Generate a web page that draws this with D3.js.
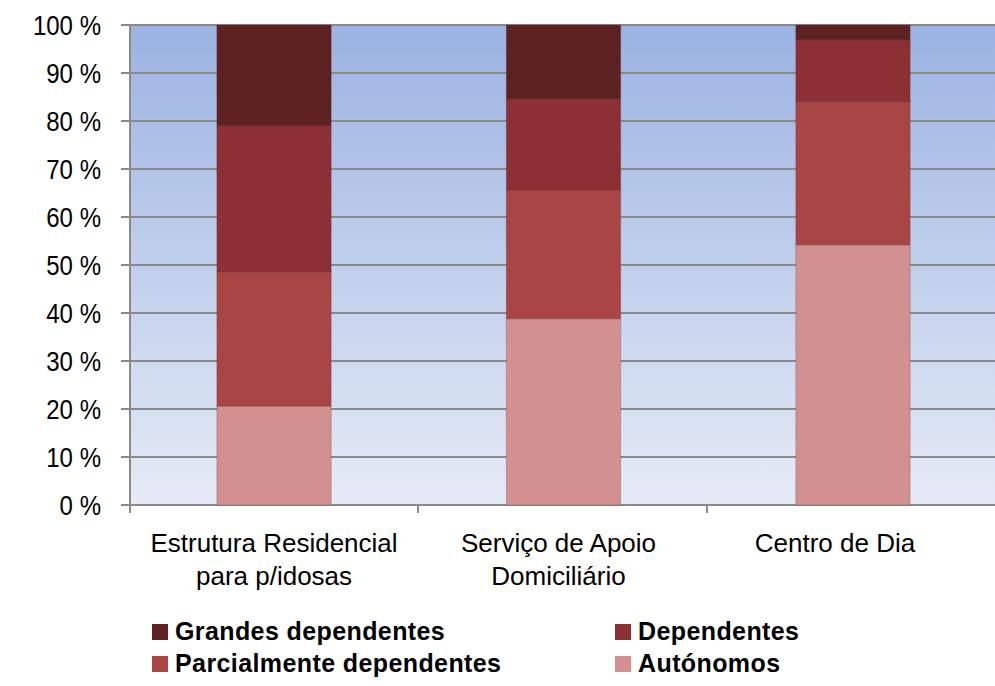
<!DOCTYPE html>
<html>
<head>
<meta charset="utf-8">
<script src="https://cdn.jsdelivr.net/npm/d3@7"></script>
<style>
  body { margin: 0; background: #fff; }
  svg text { font-family: "Liberation Sans", Arial, sans-serif; fill: #000; }
</style>
</head>
<body>
<svg id="chart" width="995" height="686"></svg>
<script>
// categorias e valores (percentagens, de baixo para cima)
var categories = [["Estrutura Residencial", "para p/idosas"], ["Serviço de Apoio", "Domiciliário"], ["Centro de Dia"]];
var series = ["Autónomos", "Parcialmente dependentes", "Dependentes", "Grandes dependentes"];
var autonomos = [20.6, 38.8, 54.2];
var parcialmente = [27.9, 26.8, 29.8];
var dependentes = [30.5, 19.0, 12.9];
var grandes = [21.0, 15.4, 3.1];
var colors = ["#d39090", "#aa4545", "#8d3036", "#5e2122"];
var yTicks = [0, 10, 20, 30, 40, 50, 60, 70, 80, 90, 100];

var svg = d3.select("#chart");
var margin = {top: 25, left: 130, bottom: 181};
var plotW = 867;
var plotH = 686 - margin.top - margin.bottom;

var x = d3.scaleBand()
    .domain(d3.range(categories.length))
    .range([margin.left, margin.left + plotW])
    .paddingInner(0.605).paddingOuter(0.3);
var y = d3.scaleLinear().domain([0, 100]).range([margin.top + plotH, margin.top]);

// fundo com gradiente
var grad = svg.append("defs").append("linearGradient")
    .attr("id", "bg").attr("x1", 0).attr("y1", 0).attr("x2", 0).attr("y2", 1);
grad.append("stop").attr("offset", "0%").attr("stop-color", "#9bb3e2");
grad.append("stop").attr("offset", "100%").attr("stop-color", "#e6ebf6");
svg.append("rect")
    .attr("x", margin.left).attr("y", margin.top)
    .attr("width", plotW).attr("height", plotH)
    .attr("fill", "url(#bg)");

// grelha
svg.append("g").selectAll("line")
    .data(yTicks)
    .enter().append("line")
    .attr("x1", margin.left - 9).attr("x2", margin.left + plotW)
    .attr("y1", function(d){ return y(d); }).attr("y2", function(d){ return y(d); })
    .attr("stroke", "#8a8a8a").attr("stroke-width", 2);

// barras empilhadas
var rows = categories.map(function(c, i){
    return {i: i, a: autonomos[i], p: parcialmente[i], d: dependentes[i], g: grandes[i]};
});
var stack = d3.stack().keys(["a", "p", "d", "g"]);
var layers = stack(rows);
svg.append("g").selectAll("g")
    .data(layers)
    .enter().append("g")
    .attr("fill", function(d, k){ return colors[k]; })
    .selectAll("rect")
    .data(function(d){ return d; })
    .enter().append("rect")
    .attr("x", function(d){ return x(d.data.i); })
    .attr("width", x.bandwidth())
    .attr("y", function(d){ return y(Math.min(100, d[1])); })
    .attr("height", function(d){ return y(d[0]) - y(Math.min(100, d[1])); })
    .attr("stroke", "rgba(90,40,40,0.25)").attr("stroke-width", 1);

// eixo y
svg.append("line")
    .attr("x1", margin.left).attr("x2", margin.left)
    .attr("y1", margin.top).attr("y2", margin.top + plotH + 8)
    .attr("stroke", "#8a8a8a").attr("stroke-width", 2);
svg.append("g").selectAll("text")
    .data(yTicks)
    .enter().append("text")
    .attr("transform", function(d){ return "translate(101," + (y(d) + 10) + ") scale(0.89,1)"; })
    .attr("text-anchor", "end")
    .style("font-size", "27px")
    .text(function(d){ return d + " %"; });

// eixo x (marcas entre categorias)
var step = plotW / categories.length;
svg.append("g").selectAll("line")
    .data(d3.range(1, categories.length + 1))
    .enter().append("line")
    .attr("x1", function(d){ return margin.left + d * step - 1; })
    .attr("x2", function(d){ return margin.left + d * step - 1; })
    .attr("y1", margin.top + plotH).attr("y2", margin.top + plotH + 8)
    .attr("stroke", "#8a8a8a").attr("stroke-width", 2);

// rótulos ficam um pouco à esquerda quando o espaço acaba na margem
var labelShift = [0, -5, -18];
var lab = svg.append("g").selectAll("text")
    .data(categories)
    .enter().append("text")
    .attr("text-anchor", "middle")
    .style("font-size", "26px")
    .attr("transform", function(d, i){
        return "translate(" + (x(i) + x.bandwidth() / 2 + labelShift[i]) + ",552)";
    });
lab.selectAll("tspan")
    .data(function(d){ return d; })
    .enter().append("tspan")
    .attr("x", 0).attr("dy", function(d, j){ return j ? 33 : 0; })
    .text(function(d){ return d; });

// legenda
var legend = [
    {name: "Grandes dependentes", k: 3, x: 152, y: 640},
    {name: "Dependentes", k: 2, x: 615, y: 640},
    {name: "Parcialmente dependentes", k: 1, x: 152, y: 672},
    {name: "Autónomos", k: 0, x: 615, y: 672}
];
var lg = svg.append("g").selectAll("g")
    .data(legend)
    .enter().append("g")
    .attr("transform", function(d){ return "translate(" + d.x + "," + d.y + ")"; });
lg.append("rect")
    .attr("x", 0).attr("y", -16).attr("width", 16).attr("height", 16)
    .attr("fill", function(d){ return colors[d.k]; });
lg.append("text")
    .attr("x", 23).attr("y", 0)
    .style("font-size", "25px").style("font-weight", "bold").style("letter-spacing", "0.4px")
    .text(function(d){ return d.name; });
</script>
</body>
</html>
